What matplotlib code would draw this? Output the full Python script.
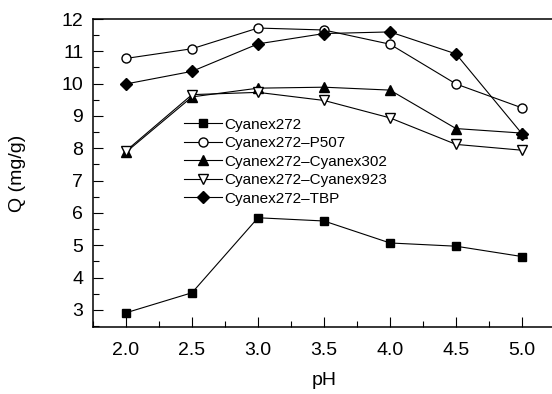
import matplotlib
matplotlib.use('Agg')
import matplotlib.pyplot as plt
from matplotlib.ticker import MultipleLocator

plt.rcParams['font.family'] = ['Liberation Sans', 'DejaVu Sans']

ph = [2.0, 2.5, 3.0, 3.5, 4.0, 4.5, 5.0]
q_cyanex272 = [2.91, 3.53, 5.85, 5.75, 5.07, 4.97, 4.65]
q_p507 = [10.78, 11.08, 11.72, 11.66, 11.22, 9.99, 9.25]
q_cyanex302 = [7.88, 9.59, 9.86, 9.89, 9.80, 8.61, 8.47]
q_cyanex923 = [7.92, 9.66, 9.73, 9.48, 8.94, 8.12, 7.94]
q_tbp = [9.99, 10.38, 11.23, 11.55, 11.60, 10.92, 8.45]

labels = ['Cyanex272', 'Cyanex272\u2013P507', 'Cyanex272\u2013Cyanex302',
          'Cyanex272\u2013Cyanex923', 'Cyanex272\u2013TBP']

fig = plt.figure(figsize=(5.52, 3.94), dpi=100)
ax = fig.add_axes([93 / 552, 1 - 327 / 394, (555 - 93) / 552, (327 - 19) / 394])

lw = 0.8
ax.plot(ph, q_cyanex272, color='k', lw=lw, marker='s', ms=5.5, mfc='k', mec='k', label=labels[0])
ax.plot(ph, q_p507, color='k', lw=lw, marker='o', ms=6.5, mfc='white', mec='k', label=labels[1])
ax.plot(ph, q_cyanex302, color='k', lw=lw, marker='^', ms=6.5, mfc='k', mec='k', label=labels[2])
ax.plot(ph, q_cyanex923, color='k', lw=lw, marker='v', ms=6.5, mfc='white', mec='k', label=labels[3])
ax.plot(ph, q_tbp, color='k', lw=lw, marker='D', ms=6, mfc='k', mec='k', label=labels[4])

ax.set_xlim(1.75, 5.25)
ax.set_ylim(2.47, 12.0)
ax.xaxis.set_minor_locator(MultipleLocator(0.25))
ax.yaxis.set_major_locator(MultipleLocator(1))
ax.yaxis.set_minor_locator(MultipleLocator(0.5))
ax.set_xticks(ph)
ax.set_xticklabels(['%.1f' % v for v in ph])

ax.tick_params(which='major', direction='in', length=7, width=0.8, labelsize=14)
ax.tick_params(which='minor', direction='in', length=4, width=0.8)
ax.tick_params(axis='x', pad=11)
ax.tick_params(axis='y', pad=7)
for s in ax.spines.values():
    s.set_linewidth(1.1)

ax.set_xlabel('pH', fontsize=14)
ax.set_ylabel('Q (mg/g)', fontsize=14)
ax.xaxis.set_label_coords(0.5, -0.146)
ax.yaxis.set_label_coords(-0.145, 0.5)

ax.legend(loc='upper left', bbox_to_anchor=(0.184, 0.70), frameon=False,
          fontsize=11, handlelength=2.5, handletextpad=0.15,
          labelspacing=0.3, borderaxespad=0)

fig.savefig('out.png', dpi=100)
